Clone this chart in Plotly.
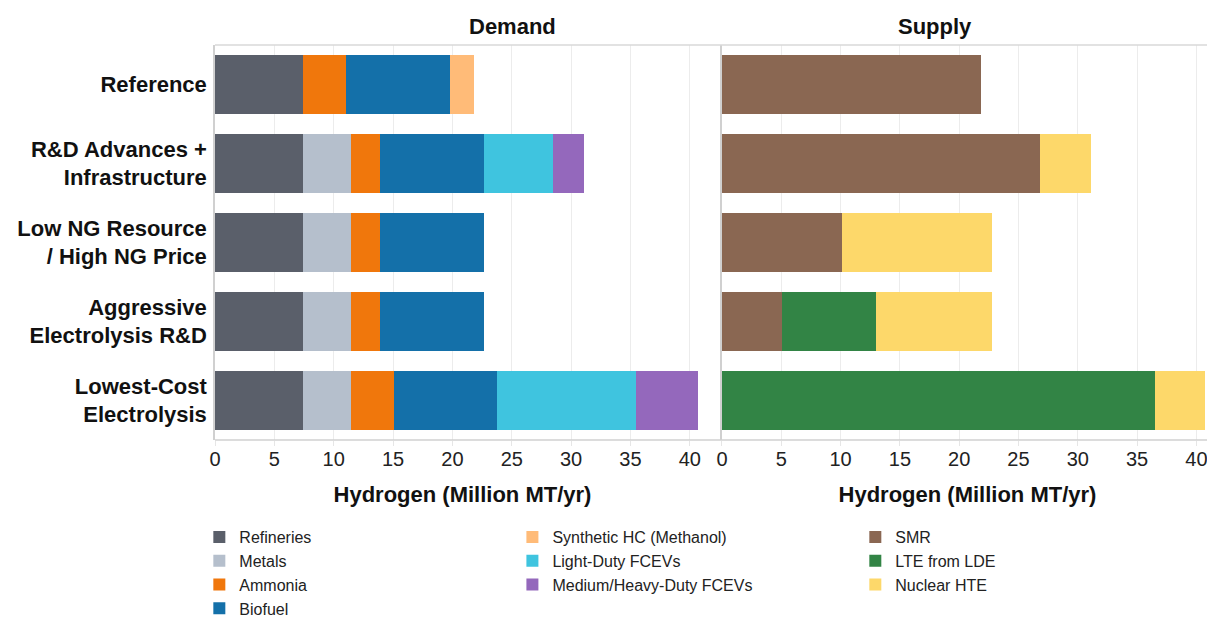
import plotly.graph_objects as go
from plotly.subplots import make_subplots

scenarios = ["Reference", "R&D Advances +<br>Infrastructure", "Low NG Resource<br>/ High NG Price",
             "Aggressive<br>Electrolysis R&D", "Lowest-Cost<br>Electrolysis"]

# Demand (Million MT/yr)
refineries = [7.42, 7.42, 7.42, 7.42, 7.42]
metals     = [0.0, 4.02, 4.02, 4.02, 4.02]
ammonia    = [3.63, 2.5, 2.5, 2.5, 3.6]
biofuel    = [8.71, 8.71, 8.71, 8.71, 8.71]
synthetic  = [2.1, 0.0, 0.0, 0.0, 0.0]
light_duty = [0.0, 5.85, 0.0, 0.0, 11.75]
med_heavy  = [0.0, 2.59, 0.0, 0.0, 5.2]

# Supply (Million MT/yr)
smr = [21.86, 26.84, 10.1, 5.04, 0.0]
lte = [0.0, 0.0, 0.0, 7.96, 36.49]
hte = [0.0, 4.25, 12.63, 9.73, 4.21]

demand = [
    ("Refineries", refineries, "#5a5f6a", "legend"),
    ("Metals", metals, "#b5bfcc", "legend"),
    ("Ammonia", ammonia, "#f0770c", "legend"),
    ("Biofuel", biofuel, "#1470a9", "legend"),
    ("Synthetic HC (Methanol)", synthetic, "#ffbb78", "legend2"),
    ("Light-Duty FCEVs", light_duty, "#3fc4df", "legend2"),
    ("Medium/Heavy-Duty FCEVs", med_heavy, "#9468bc", "legend2"),
]
supply = [
    ("SMR", smr, "#8a6752", "legend3"),
    ("LTE from LDE", lte, "#328445", "legend3"),
    ("Nuclear HTE", hte, "#fdd86a", "legend3"),
]

fig = make_subplots(rows=1, cols=2, horizontal_spacing=0.012, shared_yaxes=False)

for name, vals, color, lg in demand:
    fig.add_trace(go.Bar(y=scenarios, x=vals, name=name, orientation="h",
                         marker=dict(color=color, line=dict(width=0)), legend=lg), row=1, col=1)
for name, vals, color, lg in supply:
    fig.add_trace(go.Bar(y=scenarios, x=vals, name=name, orientation="h",
                         marker=dict(color=color, line=dict(width=0)), legend=lg), row=1, col=2)

font_family = "Liberation Sans, Arial, sans-serif"
axis_common = dict(range=[0, 41.7], dtick=5, showgrid=True, gridcolor="#ececec", gridwidth=1,
                   zeroline=False, showline=False, ticks="outside", ticklen=5, tickcolor="#e6e6e6",
                   automargin=False, ticklabelstandoff=-4,
                   tickfont=dict(size=20, color="#222", family=font_family),
                   title=dict(text="<b>Hydrogen (Million MT/yr)</b>",
                              font=dict(size=22, color="#111", family=font_family), standoff=17))

fig.update_xaxes(**axis_common)
fig.update_xaxes(domain=[0, 0.496], row=1, col=1)
fig.update_xaxes(domain=[0.508, 1.0], range=[0, 41.4], row=1, col=2)
fig.update_yaxes(autorange="reversed", showline=True, linecolor="#d0d0d0", linewidth=1.5,
                 showgrid=False, ticks="", automargin=False,
                 tickfont=dict(size=22, color="#111", family=font_family))
fig.update_yaxes(showticklabels=False, row=1, col=2)
fig.update_yaxes(ticklabelstandoff=2, tickprefix="<b>", ticksuffix="</b>", row=1, col=1)

legend_common = dict(orientation="v", yanchor="top", xanchor="left", bgcolor="rgba(0,0,0,0)",
                     font=dict(size=16, color="#222", family=font_family), tracegroupgap=0,
                     traceorder="normal", itemclick=False, itemdoubleclick=False)

fig.update_layout(
    width=1207, height=611,
    margin=dict(l=207, r=2, t=37, b=179, autoexpand=False),
    barmode="stack", bargap=0.26,
    plot_bgcolor="white", paper_bgcolor="white",
    font=dict(family=font_family),
    legend=dict(x=-0.0157, y=-0.2025, **legend_common),
    legend2=dict(x=0.298, y=-0.2025, **legend_common),
    legend3=dict(x=0.6416, y=-0.2025, **legend_common),
    shapes=[
        dict(type="line", xref="paper", yref="paper", x0=0, x1=1, y0=1, y1=1,
             line=dict(color="#d9d9d9", width=1.5)),
        dict(type="line", xref="paper", yref="paper", x0=0, x1=1, y0=0, y1=0,
             line=dict(color="#d0d0d0", width=1.5)),
    ],
    annotations=[
        dict(text="<b>Demand</b>", xref="paper", yref="paper", x=0.253, y=1.0, yanchor="middle",
             yshift=19, showarrow=False, font=dict(size=22, color="#111", family=font_family)),
        dict(text="<b>Supply</b>", xref="paper", yref="paper", x=0.7605, y=1.0, yanchor="middle",
             yshift=19, showarrow=False, font=dict(size=22, color="#111", family=font_family)),
    ],
)

fig.write_html("out.html")
